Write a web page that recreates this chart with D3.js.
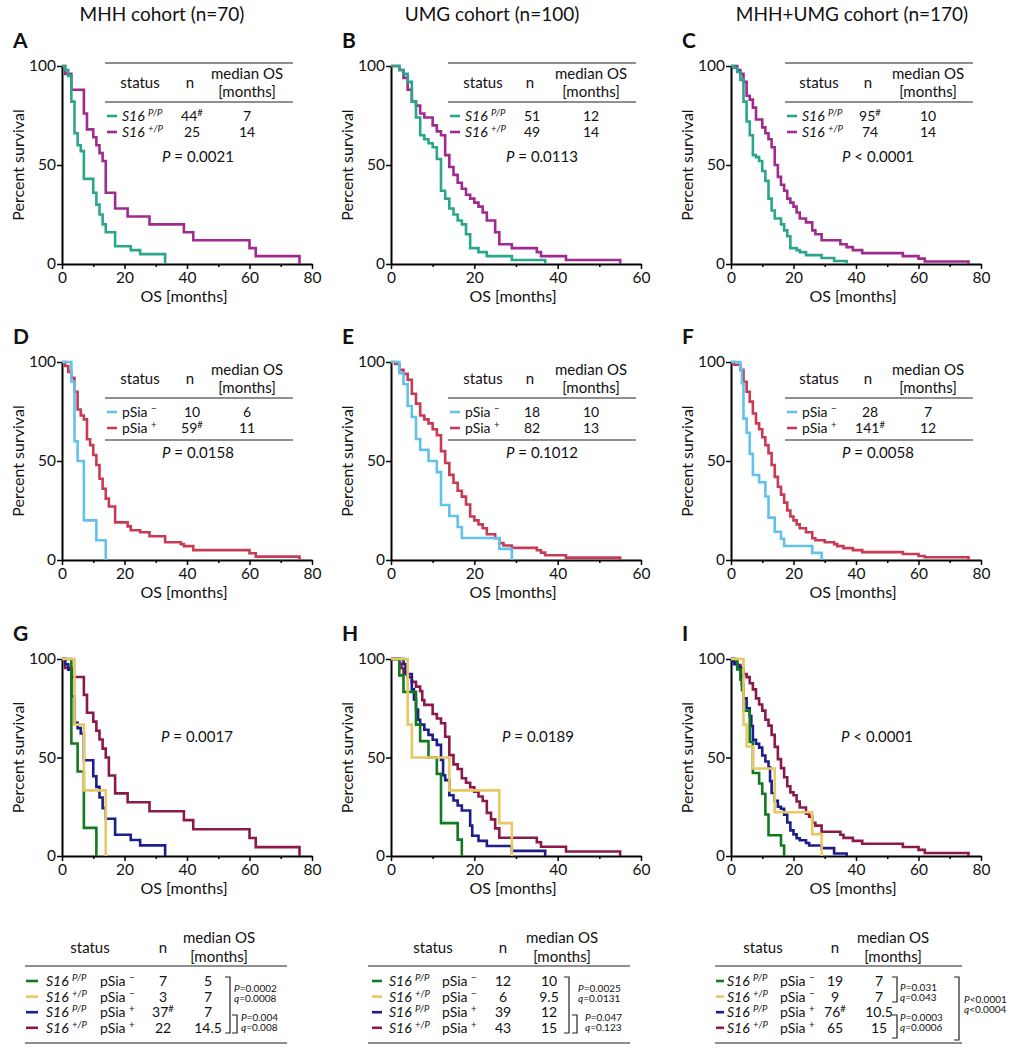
<!DOCTYPE html>
<html><head><meta charset="utf-8">
<script src="https://cdn.jsdelivr.net/npm/d3@7"></script>
<style>
body{margin:0;background:#fff}
svg{display:block}
text{font-family:Lato,'Open Sans',sans-serif;fill:#111;white-space:pre}
</style>
</head><body>
<svg id="c" width="1025" height="1050"></svg>
<script>
// ---------- tick labels ----------
const xTicks80 = [0, 20, 40, 60, 80];
const xTicks60 = [0, 20, 40, 60];
const xMinor80 = [10, 30, 50, 70];
const xMinor60 = [10, 30, 50];
const yTicks = [0, 50, 100];
const columnTitles = ["MHH cohort (n=70)", "UMG cohort (n=100)", "MHH+UMG cohort (n=170)"];
const panelLetters = ["A","B","C","D","E","F","G","H","I"];

// ---------- survival curves: [month, percent surviving after the step] ----------
const A_S16PP = [[1,98],[2,95],[3,82],[4,66],[5,60],[6,57],[7,43],[10,36],[11,30],[12,25],[13,20],[14,16],[17,9],[22,7],[25,5],[33,0]];
const A_S16P  = [[1,96],[3,88],[7,76],[8,68],[10,64],[11,60],[12,56],[13,52],[14,36],[17,28],[21,24],[28,20],[39,16],[42,12],[60,8],[62,4],[76,0]];
const B_S16PP = [[2,98],[3,96],[4,92],[5,82],[6,74],[7,65],[8,63],[9,61],[10,59],[11,53],[12,37],[13,33],[14,28],[15,25],[16,22],[17,20],[18,15],[19,8],[21,6],[23,4],[29,2],[37,0]];
const B_S16P  = [[2,98],[3,94],[4,88],[5,82],[6,80],[7,76],[8,74],[10,70],[11,67],[12,65],[13,55],[14,49],[15,45],[16,41],[17,38],[18,35],[19,33],[20,31],[21,29],[22,26],[23,22],[25,16],[26,10],[29,8],[35,6],[36,4],[42,2],[55,0]];
const C_S16PP = [[1,99],[2,97],[3,93],[4,82],[5,72],[6,65],[7,55],[8,54],[9,52],[10,47],[11,42],[12,33],[13,27],[14,23],[16,20],[17,17],[18,14],[19,8],[21,7],[22,6],[24,4.5],[29,3],[33,1.5],[37,0]];
const C_S16P  = [[2,98],[3,96],[4,92],[5,85],[6,83],[7,79],[8,73],[10,69],[11,66],[12,63],[13,59],[14,50],[15,44],[16,40],[17,37],[18,33],[19,31],[20,29],[21,26],[22,23],[24,21],[26,17],[27,15],[29,12],[35,10],[37,8.5],[39,7],[42,5.5],[55,4],[60,2.7],[62,1.3],[76,0]];
const D_neg = [[3,90],[4,60],[5,50],[7,20],[11,10],[14,0]];
const D_pos = [[1,98],[2,95],[3,92],[4,85],[5,76],[6,73],[7,71],[8,61],[9,58],[10,53],[11,48],[12,41],[13,36],[14,31],[15,27],[17,19],[21,17],[22,15],[25,14],[28,12],[33,9],[38,8],[39,7],[42,5],[60,3.4],[62,1.7],[76,0]];
const E_neg = [[2,94.4],[3,88.9],[4,77.8],[5,72.2],[6,61.1],[7,55.6],[9,50],[11,44.4],[12,27.8],[14,22.2],[16,16.7],[17,11.1],[26,5.6],[29,0]];
const E_pos = [[1,99],[2,96],[3,94],[4,91],[5,84],[6,79],[7,73],[8,71],[9,69],[10,66],[11,63],[12,55],[13,49],[14,43],[15,39],[16,35],[17,32],[18,28],[19,22],[20,20],[21,18],[22,16],[23,13],[25,11],[26,8.5],[27,7.3],[29,6.1],[35,4.9],[36,3.7],[37,2.4],[42,1.2],[55,0]];
const F_neg = [[3,96.4],[3.5,89.3],[4,71.4],[5,64.3],[6,53.6],[7,42.9],[9,39.3],[11,32.1],[12,21.4],[14,14.3],[16,10.7],[17,7.1],[26,3.6],[29,0]];
const F_pos = [[1,98.6],[3,96],[4,90],[5,85],[6,80],[7,74],[8,69],[9,66],[10,62],[11,58],[12,54],[13,48],[14,42],[15,37],[16,33],[17,29],[18,25],[19,22],[20,20],[21,18],[22,16],[24,14],[26,11],[27,10],[30,9],[33,8],[34,7],[36,6],[39,5],[42,4],[55,3],[60,2],[62,1.4],[76,0]];
const G_PPneg = [[3,57.1],[5,42.9],[7,14.3],[11,0]];
const G_Pneg  = [[4,66.7],[7,33.3],[14,0]];
const G_PPpos = [[1,97.3],[2,94.6],[3,81.1],[4,67.6],[5,64.9],[6,62.2],[7,48.6],[10,40.5],[11,35.1],[12,29.7],[13,24.3],[14,18.9],[17,10.8],[22,8.1],[25,5.4],[33,0]];
const G_Ppos  = [[1,95.5],[3,90.9],[7,81.8],[8,72.7],[10,68.2],[11,63.6],[12,59.1],[13,54.5],[14,50],[15,40.9],[17,31.8],[21,27.3],[28,22.7],[39,18.2],[42,13.6],[60,9.1],[62,4.5],[76,0]];
const H_PPneg = [[2,91.7],[3,83.3],[6,66.7],[7,58.3],[9,50],[11,41.7],[12,16.7],[16,8.3],[17,0]];
const H_Pneg  = [[4,66.7],[5,50],[14,33.3],[26,16.7],[29,0]];
const H_PPpos = [[3,97.4],[3.5,92.3],[5,84.6],[5.5,79.5],[6,74.4],[6.5,69.2],[7,66.7],[8,64.1],[9,61.5],[10,59],[11,56.4],[12,48.7],[12.5,41],[13,38.5],[14,30.8],[15,28.2],[16,25.6],[17,23.1],[19,15.4],[19.5,10.3],[21,7.7],[23,5.1],[29,2.6],[37,0]];
const H_Ppos  = [[2,97.7],[2.5,95.3],[3,93],[4,90.7],[5,88.4],[6,86],[7,83.7],[7.5,79.1],[8,76.7],[10,72.1],[11,69.8],[12,67.4],[13,60.5],[14,51.2],[15,46.5],[16,44.2],[17,39.5],[18,37.2],[19,34.9],[20,32.6],[21,30.2],[22,27.9],[23,21.9],[24,18.6],[25,14],[26,9.3],[35,7],[36,4.7],[42,2.3],[55,0]];
const I_PPneg = [[2,94.7],[3,89.5],[3.5,84.2],[4,73.7],[6,57.9],[7,42.1],[9,36.8],[10,31.6],[11,21.1],[12,10.5],[16,5.3],[17,0]];
const I_Pneg  = [[4,66.7],[5,55.6],[7,44.4],[14,22.2],[26,11.1],[29,0]];
const I_PPpos = [[0.5,98.7],[1,97.4],[2,96],[3,92],[3.5,87],[4,80],[5,75],[6,71],[6.5,66],[7,59],[8,57],[9,55],[10,51],[11,48],[12,45],[12.5,38],[13,32],[14,28],[15,25],[16,24],[17,21],[18,17],[19,13],[20,11],[21,9],[22,8],[24,6.6],[25,5.3],[29,4],[33,1.3],[37,0]];
const I_Ppos  = [[1,98.5],[2,96.9],[3,95.4],[4,92.3],[5,90.8],[6,87.7],[7,84.6],[8,80],[9,76.9],[10,73.8],[11,69.2],[12,66.2],[13,61.5],[14,55.4],[15,49.2],[16,44.6],[17,40],[18,35.4],[19,32.3],[20,30.8],[21,27.7],[22,24.6],[24,21.5],[25,20],[26,16.9],[27,15.4],[29,12.3],[35,10.8],[36,9.2],[39,7.7],[42,6.2],[55,4.6],[60,3.1],[62,1.5],[76,0]];

// ---------- table values ----------
const nTop = [["44#","25"],["51","49"],["95#","74"]];
const medTop = [["7","14"],["12","14"],["10","14"]];
const nMid = [["10","59#"],["18","82"],["28","141#"]];
const medMid = [["6","11"],["10","13"],["7","12"]];
const pTop = ["= 0.0021","= 0.0113","< 0.0001"];
const pMid = ["= 0.0158","= 0.1012","= 0.0058"];
const pBot = ["= 0.0017","= 0.0189","< 0.0001"];
const nBig = [["7","3","37#","22"],["12","6","39","43"],["19","9","76#","65"]];
const medBig = [["5","7","7","14.5"],["10","9.5","12","15"],["7","7","10.5","15"]];
const cmpBig = [
  [["P=0.0002","q=0.0008"],["P=0.004","q=0.008"]],
  [["P=0.0025","q=0.0131"],["P=0.047","q=0.123"]],
  [["P=0.031","q=0.043"],["P=0.0003","q=0.0006"],["P<0.0001","q<0.0004"]]
];

// ---------- colours ----------
const TEAL='#2aa68b', MAG='#a02a8f', SKY='#62c2ee', RED='#c93a55', GRN='#127a1e', YEL='#e6c865', NAV='#1d1d8c', MAR='#8a1a4a';

// ---------- drawing ----------
const svg = d3.select('#c');
const colX = [62, 391, 731], rowTop = [66, 362, 659], rowBot = [264, 560, 856], PW = 250;
const FS = 15;   // headers / P values
const RS = 14;   // table rows

function addText(parent, x, y, parts, opt = {}) {
  const size = opt.size || FS;
  const t = parent.append('text').attr('x', x).attr('y', y).attr('font-size', size)
    .attr('text-anchor', opt.anchor || 'start');
  if (opt.weight) t.attr('font-weight', opt.weight);
  if (opt.rot) t.attr('transform', `rotate(${opt.rot},${x},${y})`);
  let raised = false;
  parts.forEach(p => {
    if (typeof p === 'string') p = {t: p};
    const s = t.append('tspan').text(p.t);
    if (p.i) s.attr('font-style', 'italic');
    if (p.sup) {
      s.attr('font-size', size * 0.68);
      if (!raised) { s.attr('dy', -size * 0.36); raised = true; }
    } else if (raised) { s.attr('dy', size * 0.36); raised = false; }
  });
  return t;
}
function numParts(s) {
  return s.endsWith('#') ? [s.slice(0, -1), {t: '#', sup: 1}] : [s];
}
function pParts(s) { return [{t: 'P', i: 1}, ' ' + s]; }
const S16PP = [{t: 'S16 ', i: 1}, {t: 'P/P', i: 1, sup: 1}];
const S16P = [{t: 'S16 ', i: 1}, {t: '+/P', i: 1, sup: 1}];
const PSN = ['pSia ', {t: '\u2212', sup: 1}];
const PSP = ['pSia ', {t: '+', sup: 1}];

const panels = [
  {r:0,c:0,xmax:80,curves:[[A_S16P,MAG],[A_S16PP,TEAL]]},
  {r:0,c:1,xmax:60,curves:[[B_S16P,MAG],[B_S16PP,TEAL]]},
  {r:0,c:2,xmax:80,curves:[[C_S16P,MAG],[C_S16PP,TEAL]]},
  {r:1,c:0,xmax:80,curves:[[D_pos,RED],[D_neg,SKY]]},
  {r:1,c:1,xmax:60,curves:[[E_pos,RED],[E_neg,SKY]]},
  {r:1,c:2,xmax:80,curves:[[F_pos,RED],[F_neg,SKY]]},
  {r:2,c:0,xmax:80,curves:[[G_Ppos,MAR],[G_PPpos,NAV],[G_PPneg,GRN],[G_Pneg,YEL]]},
  {r:2,c:1,xmax:60,curves:[[H_Ppos,MAR],[H_PPpos,NAV],[H_PPneg,GRN],[H_Pneg,YEL]]},
  {r:2,c:2,xmax:80,curves:[[I_Ppos,MAR],[I_PPpos,NAV],[I_PPneg,GRN],[I_Pneg,YEL]]}
];

// column titles
[162, 492, 852].forEach((cx, i) => addText(svg, cx, 21, [columnTitles[i]], {size: 19, anchor: 'middle'}));

panels.forEach((p, k) => {
  const x0 = colX[p.c], top = rowTop[p.r], bot = rowBot[p.r];
  const g = svg.append('g');
  const x = d3.scaleLinear().domain([0, p.xmax]).range([x0, x0 + PW]);
  const y = d3.scaleLinear().domain([0, 100]).range([bot, top]);

  // letter
  addText(g, x0 - 49, top - 18, [panelLetters[k]], {size: 21, weight: 'bold'});

  // axes
  const gx = g.append('g').attr('transform', `translate(0,${bot})`)
    .call(d3.axisBottom(x).tickValues(p.xmax === 80 ? xTicks80 : xTicks60).tickSize(5).tickSizeOuter(0).tickPadding(3));
  const gm = g.append('g').attr('transform', `translate(0,${bot})`)
    .call(d3.axisBottom(x).tickValues(p.xmax === 80 ? xMinor80 : xMinor60).tickSize(3).tickSizeOuter(0).tickFormat(''));
  gm.select('.domain').remove();
  const gy = g.append('g').attr('transform', `translate(${x0},0)`)
    .call(d3.axisLeft(y).tickValues(yTicks).tickSize(5).tickSizeOuter(0).tickPadding(1));
  [gx, gm, gy].forEach(a => {
    a.attr('font-size', 15.5).attr('font-family', 'Lato,sans-serif');
    a.select('.domain').attr('stroke', '#000').attr('stroke-width', 2);
    a.selectAll('.tick line').attr('stroke', '#000').attr('stroke-width', 1.5);
    a.selectAll('.tick text').attr('fill', '#111');
  });

  // curves
  const line = d3.line().x(d => x(d[0])).y(d => y(d[1])).curve(d3.curveStepAfter);
  p.curves.forEach(([data, col]) => {
    g.append('path').attr('d', line([[0, 100], ...data])).attr('fill', 'none')
      .attr('stroke', col).attr('stroke-width', 2.6).attr('stroke-linejoin', 'miter');
  });

  // axis titles
  addText(g, x0 + PW / 2 - 3, bot + 38, ['OS [months]'], {size: 16, anchor: 'middle'});
  addText(g, x0 - 38, (top + bot) / 2, ['Percent survival'], {size: 16, anchor: 'middle', rot: -90});
});

// small tables in rows 1 and 2
const tblX = [
  {l1:105,l2:293,sx:140,nx:192,mx:247,d1:107,d2:117,tx:122,px:198},
  {l1:448,l2:636,sx:483,nx:532,mx:591,d1:450,d2:460,tx:465,px:542},
  {l1:785,l2:973,sx:819,nx:870,mx:928,d1:787,d2:797,tx:802,px:878}
];
[0, 1].forEach(r => {
  tblX.forEach((t, c) => {
    const top = rowTop[r];
    const g = svg.append('g');
    const hl = yy => g.append('line').attr('x1', t.l1).attr('x2', t.l2).attr('y1', yy).attr('y2', yy)
      .attr('stroke', '#6b6b6b').attr('stroke-width', 1.5);
    if (r === 0) hl(top - 3);
    hl(top + 36);
    if (r === 1) hl(top + 78);
    addText(g, t.sx, top + 22, ['status'], {anchor: 'middle'});
    addText(g, t.nx - 2, top + 22, ['n'], {anchor: 'middle'});
    addText(g, t.mx, top + 13, ['median OS'], {anchor: 'middle'});
    addText(g, t.mx, top + 31, ['[months]'], {anchor: 'middle'});
    const labels = r === 0 ? [S16PP, S16P] : [PSN, PSP];
    const cols = r === 0 ? [TEAL, MAG] : [SKY, RED];
    const ns = r === 0 ? nTop[c] : nMid[c];
    const ms = r === 0 ? medTop[c] : medMid[c];
    [0, 1].forEach(i => {
      const by = top + 55 + i * 16;
      g.append('line').attr('x1', t.d1).attr('x2', t.d2).attr('y1', by - 5).attr('y2', by - 5)
        .attr('stroke', cols[i]).attr('stroke-width', 2.6);
      addText(g, t.tx, by, labels[i], {size: RS});
      addText(g, t.nx, by, numParts(ns[i]), {anchor: 'middle', size: RS});
      addText(g, t.mx, by, [ms[i]], {anchor: 'middle', size: RS});
    });
    addText(g, t.px, top + 96, pParts(r === 0 ? pTop[c] : pMid[c]), {anchor: 'middle'});
  });
});
// P values for row 3
[197, 538, 877].forEach((cx, c) => addText(svg, cx, 742, pParts(pBot[c]), {anchor: 'middle'}));

// big tables
const bigX = [
  {l1:25,l2:287,sx:90,nx:163,mhx:219,mx:208,d1:26,d2:38,s16:46,ps:100},
  {l1:368,l2:630,sx:433,nx:503,mhx:562,mx:549,d1:372,d2:382,s16:389,ps:442},
  {l1:715,l2:962,sx:763,nx:835,mhx:893,mx:879,d1:716,d2:724,s16:727,ps:780}
];
const bigBrackets = [
  [{x:230,y1:977,y2:1033,tx:234,ty:992},{x:237,y1:1015,y2:1033,tx:241,ty:1021}],
  [{x:569,y1:977,y2:1033,tx:578,ty:992},{x:577,y1:1015,y2:1033,tx:585,ty:1021}],
  [{x:897,y1:977,y2:1002,tx:900,ty:991},{x:897,y1:1015,y2:1038,tx:900,ty:1021},{x:959,y1:977,y2:1040,tx:964,ty:1003}]
];
const bigLabels = [S16PP, S16P, S16PP, S16P];
const bigPS = [PSN, PSN, PSP, PSP];
const bigCols = [GRN, YEL, NAV, MAR];
bigX.forEach((t, c) => {
  const g = svg.append('g');
  const hl = yy => g.append('line').attr('x1', t.l1).attr('x2', t.l2).attr('y1', yy).attr('y2', yy)
    .attr('stroke', '#6b6b6b').attr('stroke-width', 1.5);
  hl(966); hl(1043);
  addText(g, t.sx, 953, ['status'], {anchor: 'middle'});
  addText(g, t.nx, 953, ['n'], {anchor: 'middle'});
  addText(g, t.mhx, 943, ['median OS'], {anchor: 'middle'});
  addText(g, t.mhx, 962, ['[months]'], {anchor: 'middle'});
  for (let i = 0; i < 4; i++) {
    const by = 986 + i * 15.6;
    g.append('line').attr('x1', t.d1).attr('x2', t.d2).attr('y1', by - 5).attr('y2', by - 5)
      .attr('stroke', bigCols[i]).attr('stroke-width', 2.6);
    addText(g, t.s16, by, bigLabels[i], {size: RS});
    addText(g, t.ps, by, bigPS[i], {size: RS});
    addText(g, t.nx, by, numParts(nBig[c][i]), {anchor: 'middle', size: RS});
    addText(g, t.mx, by, [medBig[c][i]], {anchor: 'middle', size: RS});
  }
  bigBrackets[c].forEach((b, j) => {
    g.append('path').attr('d', `M${b.x - 5},${b.y1}H${b.x}V${b.y2}H${b.x - 5}`)
      .attr('fill', 'none').attr('stroke', '#222').attr('stroke-width', 1.2);
    const [pl, ql] = cmpBig[c][j];
    addText(g, b.tx, b.ty, [{t: 'P', i: 1}, pl.slice(1)], {size: 10});
    addText(g, b.tx, b.ty + 10, [{t: 'q', i: 1}, ql.slice(1)], {size: 10});
  });
});
</script>
</body></html>
